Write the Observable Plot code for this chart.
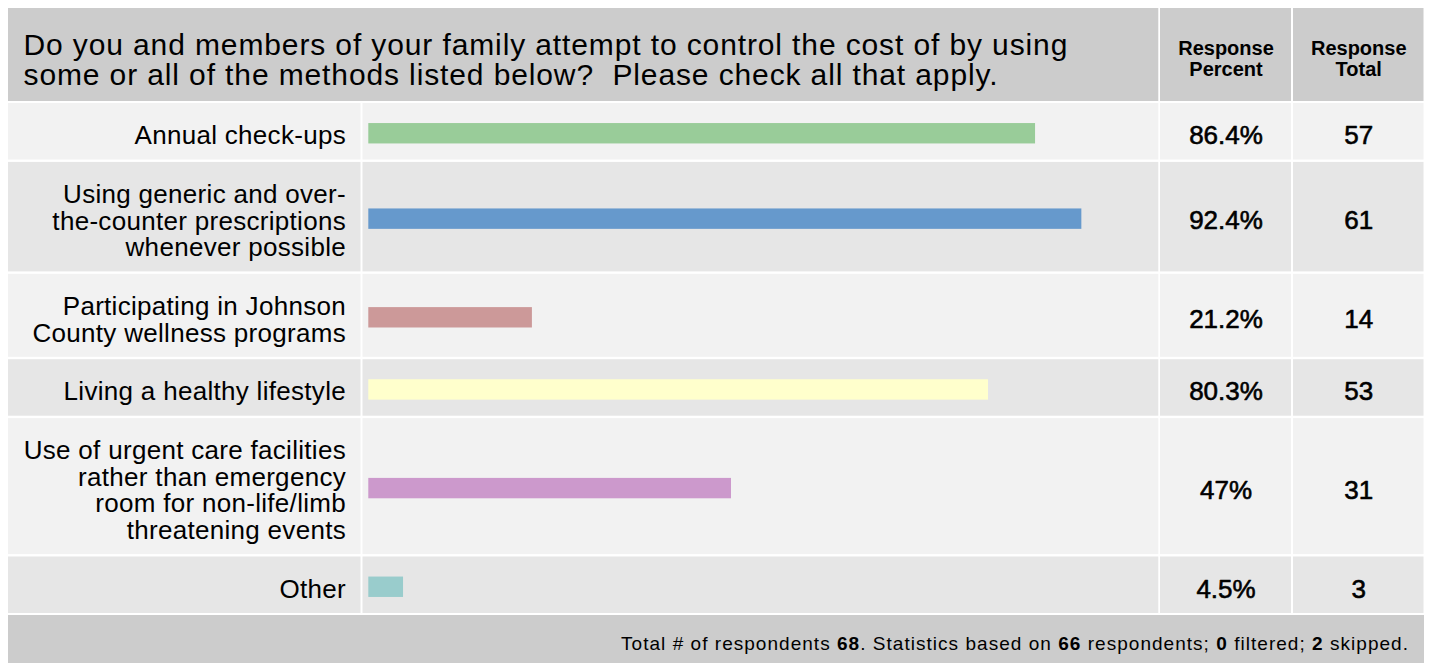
<!DOCTYPE html>
<html>
<head>
<meta charset="utf-8">
<script src="https://cdn.jsdelivr.net/npm/d3@7"></script>
<script src="https://cdn.jsdelivr.net/npm/@observablehq/plot@0.6"></script>
<style>
  html, body { margin: 0; padding: 0; background: #ffffff; }
  body { width: 1429px; height: 663px; overflow: hidden; font-family: "Liberation Sans", Arial, sans-serif; }
  #chart svg text { white-space: pre; }
  #foot { margin-left: 8px; width: 1416px; height: 48px; background: #cccccc; box-sizing: border-box;
          font: 19px "Liberation Sans", Arial, sans-serif; line-height: 19px; letter-spacing: 1.03px; color: #000;
          text-align: right; padding-right: 15px; padding-top: 19px; }
  #foot b { font-weight: bold; }
</style>
</head>
<body>
<div id="chart"></div>
<div id="foot"></div>
<script>
// ---------- data ----------
const question = [
  "Do you and members of your family attempt to control the cost of by using",
  "some or all of the methods listed below?  Please check all that apply."
];
const columnHeaders = [["Response", "Percent"], ["Response", "Total"]];
const answers = [
  ["Annual check-ups"],
  ["Using generic and over-", "the-counter prescriptions", "whenever possible"],
  ["Participating in Johnson", "County wellness programs"],
  ["Living a healthy lifestyle"],
  ["Use of urgent care facilities", "rather than emergency", "room for non-life/limb", "threatening events"],
  ["Other"]
];
const percents = [86.4, 92.4, 21.2, 80.3, 47, 4.5];
const totals = [57, 61, 14, 53, 31, 3];
const barColors = ["#99cc99", "#6699cc", "#cc9999", "#ffffcc", "#cc99cc", "#99cccc"];
const respondentsTotal = 68;
const respondentsBased = 66;
const respondentsFiltered = 0;
const respondentsSkipped = 2;

// ---------- layout ----------
const W = 1429;
const BAR0 = 368.3, BAR100 = 1140;            // pixel positions of 0% and 100%
const X = px => (px - BAR0) / (BAR100 - BAR0) * 100; // pixel -> x-scale units
const cols = [[8, 360.5], [362.5, 1158.3], [1160, 1291], [1293, 1423.5]];
const headTop = 8, headBottom = 101;
const gap = 2.4;
let yy = 103;
const rows = answers.map((lines, i) => {
  const h = 30 + 26.5 * lines.length;
  const r = {
    i, y1: yy, y2: yy + h, c: yy + h / 2,
    label: lines.join("\n"), pct: percents[i], total: totals[i], color: barColors[i],
    bg: i % 2 === 0 ? "#f2f2f2" : "#e6e6e6"
  };
  yy += h + gap;
  return r;
});
const H = Math.round(yy);

const cells = rows.flatMap(r => cols.map(([a, b]) => ({x1: X(a), x2: X(b), y1: r.y1, y2: r.y2, fill: r.bg})));
const headCells = [
  {x1: X(cols[0][0]), x2: X(cols[1][1])},
  {x1: X(cols[2][0]), x2: X(cols[2][1])},
  {x1: X(cols[3][0]), x2: X(cols[3][1])}
].map(d => ({...d, y1: headTop, y2: headBottom}));
const headMid = (headTop + headBottom) / 2;
const pctX = X((cols[2][0] + cols[2][1]) / 2);
const totX = X((cols[3][0] + cols[3][1]) / 2);

const chart = Plot.plot({
  width: W,
  height: H,
  margin: 0,
  style: {fontFamily: "'Liberation Sans', Arial, sans-serif", background: "transparent", color: "#000"},
  x: {domain: [0, 100], range: [BAR0, BAR100], axis: null},
  y: {domain: [0, H], range: [0, H], axis: null},
  color: {type: "identity"},
  marks: [
    Plot.rect(headCells, {x1: "x1", x2: "x2", y1: "y1", y2: "y2", fill: "#cccccc"}),
    Plot.rect(cells, {x1: "x1", x2: "x2", y1: "y1", y2: "y2", fill: "fill"}),
    Plot.rect(rows, {x1: 0, x2: "pct", y1: d => d.c - 8.2, y2: d => d.c + 12.2, fill: "color"}),
    Plot.text([question.join("\n")], {
      x: X(23), y: headMid + 5.5, text: d => d, textAnchor: "start", lineAnchor: "middle",
      fontSize: 30, lineHeight: 30 / 30, fill: "#000"
    }),
    Plot.text(columnHeaders, {
      x: (d, i) => i === 0 ? pctX : totX, y: headMid + 4, text: d => d.join("\n"),
      textAnchor: "middle", lineAnchor: "middle", fontSize: 20, fontWeight: "bold", lineHeight: 21 / 20, fill: "#000"
    }),
    Plot.text(rows, {
      x: X(345.5), y: d => d.c + 4, text: "label", textAnchor: "end", lineAnchor: "middle",
      fontSize: 26, lineHeight: 26.5 / 26, fill: "#000"
    }),
    Plot.text(rows, {
      x: pctX, y: d => d.c + 4, text: d => `${d.pct}%`, textAnchor: "middle",
      fontSize: 26, fill: "#000", stroke: "#000", strokeWidth: 0.6
    }),
    Plot.text(rows, {
      x: totX, y: d => d.c + 4, text: d => `${d.total}`, textAnchor: "middle",
      fontSize: 26, fill: "#000", stroke: "#000", strokeWidth: 0.6
    })
  ]
});
// widen letter spacing of title and answer labels to match the reference's rendering
const textGroups = d3.select(chart).selectAll("g[aria-label='text']").nodes();
d3.select(textGroups[0]).attr("letter-spacing", "0.88px");
d3.select(textGroups[2]).attr("letter-spacing", "0.3px");
document.getElementById("chart").appendChild(chart);

document.getElementById("foot").innerHTML =
  `Total # of respondents <b>${respondentsTotal}</b>. Statistics based on <b>${respondentsBased}</b> respondents; ` +
  `<b>${respondentsFiltered}</b> filtered; <b>${respondentsSkipped}</b> skipped.`;
</script>
</body>
</html>
